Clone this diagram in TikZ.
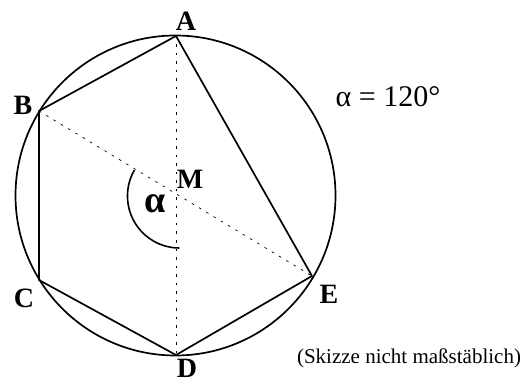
\documentclass[tikz,border=0pt]{standalone}
\usepackage{fontspec}
\setmainfont{Liberation Serif}
\begin{document}
\begin{tikzpicture}[x=1pt,y=1pt,
  edge/.style={line width=1.7pt, line join=round},
  aux/.style={line width=0.7pt, dash pattern=on 2.5pt off 6pt},
  lbl/.style={inner sep=0pt, font=\fontsize{28}{28}\selectfont\bfseries}]
\useasboundingbox (0,0) rectangle (524,383);
\coordinate (O) at (175.5,187.5);
\coordinate (A) at (176,347);
\coordinate (B) at (39,272);
\coordinate (C) at (39,103);
\coordinate (D) at (176,28);
\coordinate (E) at (312,107);
\coordinate (M) at (176,189);
\draw[edge] (O) circle[radius=160];
\draw[edge] (A) -- (B) -- (C) -- (D) -- (E) -- cycle;
\draw[aux] (A) -- (D);
\draw[aux] (B) -- (E);
\draw[line width=1.6pt] ([shift={(150:48)}]M) arc[start angle=150, end angle=270, radius=52];
\node[lbl] (lA) at (186,362) {A};
\node[lbl] (lB) at (23,278) {B};
\node[lbl] (lC) at (24,85) {C};
\node[lbl] (lD) at (187,14.5) {D};
\node[lbl] (lE) at (329,89) {E};
\node[lbl] (lM) at (190,204) {M};
\node[inner sep=0pt, font=\fontsize{38}{38}\selectfont\bfseries] (la) at (155,179) {α};
\node[inner sep=0pt, font=\fontsize{30}{30}\selectfont] (eq) at (388,286) {α = 120°};
\node[inner sep=0pt, font=\fontsize{21}{21}\selectfont] (note) at (409,25) {(Skizze nicht maßstäblich)};
\end{tikzpicture}
\end{document}
